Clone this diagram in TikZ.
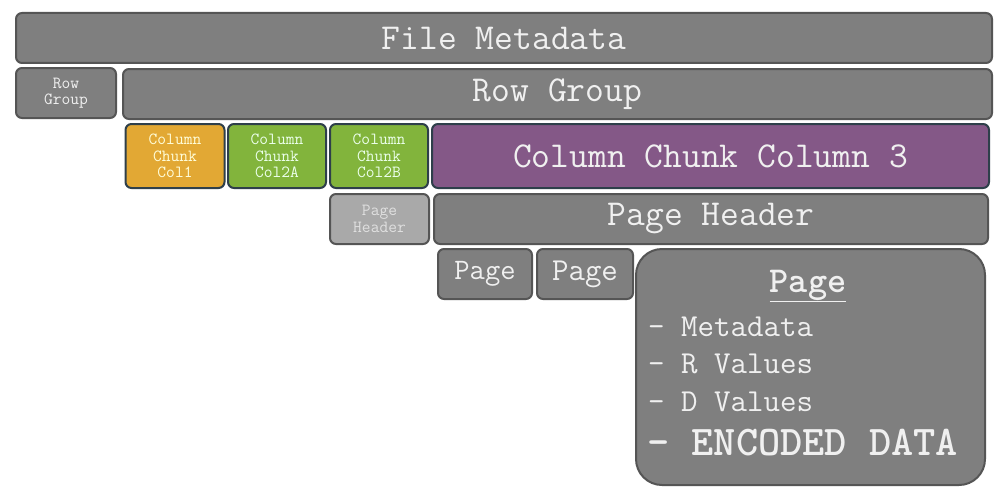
\documentclass[tikz,border=0pt]{standalone}
\usepackage{fontspec}

\definecolor{boxgray}{HTML}{7F7F7F}
\definecolor{lightgray}{HTML}{A9A9A9}
\definecolor{edgegray}{HTML}{555555}
\definecolor{edgeblue}{HTML}{2E3F4A}
\definecolor{chunkorange}{HTML}{E2A834}
\definecolor{chunkgreen}{HTML}{82B43C}
\definecolor{chunkpurple}{HTML}{845887}
\definecolor{boxtext}{HTML}{F0F0F0}

\tikzset{
  blk/.style={draw=edgegray, line width=2pt, rounded corners=6pt, fill=boxgray,
    text=boxtext, inner sep=0pt, align=center},
  colblk/.style={blk, draw=edgeblue},
  sz/.style 2 args={minimum width=#1pt, minimum height=#2pt},
  bigtxt/.style={font=\ttfamily\fontsize{36.5}{38}\selectfont},
  smalltxt/.style={font=\ttfamily\fontsize{17}{16.5}\selectfont},
}

\begin{document}
\begin{tikzpicture}[x=1pt,y=-1pt]

  \useasboundingbox[fill=white] (0,0) rectangle (1003,495);

  % file and row group
  \node[blk, sz={976}{50}, bigtxt] (filemeta) at (504,38) {File Metadata};
  \node[blk, sz={100}{50}, smalltxt] (rgsmall) at (66,93) {Row\\Group};
  \node[blk, sz={869}{50}, bigtxt] (rgbig) at (557.5,94) {Row Group};

  % column chunks
  \node[colblk, sz={99}{64}, smalltxt, fill=chunkorange, text=yellow!15] (col1) at (175,156) {Column\\Chunk\\Col1};
  \foreach \x/\n/\lbl in {277/col2a/Col2A, 379/col2b/Col2B} {
    \node[colblk, sz={98}{64}, smalltxt, fill=chunkgreen, text=green!8] (\n) at (\x,156) {Column\\Chunk\\\lbl};
  }
  \node[colblk, sz={557}{64}, bigtxt, fill=chunkpurple] (col3) at (710.5,156) {Column Chunk Column 3};

  % page headers
  \node[blk, sz={99}{50}, smalltxt, fill=lightgray, text=white!88!black] (phsmall) at (379.5,219) {Page\\Header};
  \node[blk, sz={554}{50}, bigtxt] (phbig) at (711,219) {Page Header};

  % pages
  \node[blk, sz={94}{50}, font=\ttfamily\fontsize{29.7}{31}\selectfont] (page1) at (485,274) {Page};
  \node[blk, sz={96}{50}, font=\ttfamily\fontsize{32}{34}\selectfont] (page2) at (585,274) {Page};
  \node[blk, sz={349}{236}, rounded corners=26pt] (pagebig) at (810.5,367) {};

  \node[text=boxtext, font=\ttfamily\fontsize{36.5}{38}\selectfont\bfseries] (pagetitle) at (808,286) {\underline{Page}};
  \foreach \y/\item in {327/Metadata, 364/R Values, 402/D Values} {
    \node[text=boxtext, anchor=west, inner sep=0pt, font=\ttfamily\fontsize{32}{34}\selectfont] at (648,\y) {- \item};
  }
  \node[text=boxtext, anchor=west, inner sep=0pt, font=\ttfamily\fontsize{42.3}{44}\selectfont\bfseries] (encoded) at (647,443) {- ENCODED DATA};

\end{tikzpicture}
\end{document}
